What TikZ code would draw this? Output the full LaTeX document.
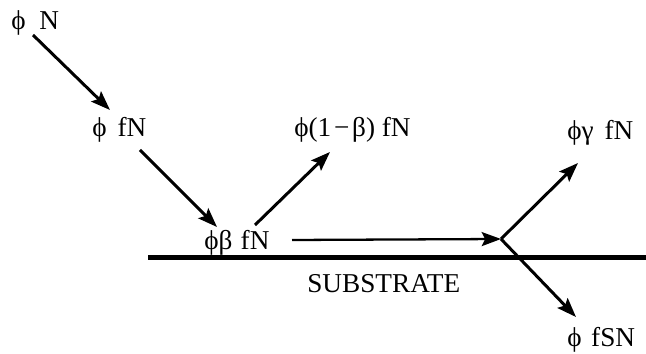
\documentclass[tikz,border=0pt]{standalone}
\usepackage{fontspec}
\setmainfont{Liberation Serif}
\usetikzlibrary{arrows.meta}
\begin{document}
\begin{tikzpicture}[x=0.02cm,y=-0.02cm,
  flow/.style={-{Stealth[length=11pt,width=8pt,inset=2pt]},line width=1.7pt},
  lbl/.style={inner sep=0pt,anchor=base west,font=\fontsize{15.5}{17}\selectfont}]
\useasboundingbox (0,0) rectangle (646,354);
% labels
\node[lbl] (phiN) at (11,30) {ϕ\hspace{0.25em} N};
\node[lbl] (fN) at (92,137) {ϕ\hspace{0.15em} fN};
\node[lbl] (bfN) at (204,250) {ϕβ\hspace{0.05em} fN};
\node[lbl] (rfN) at (294,137) {ϕ(1\hspace{0.1em}−\hspace{0.1em}β)\hspace{0.25em}fN};
\node[lbl] (gfN) at (567,140) {ϕγ\hspace{0.15em} fN};
\node[lbl] (sfN) at (567,347) {ϕ\hspace{0.1em} fSN};
\node[lbl] (sub) at (307,293) {SUBSTRATE};
% arrow ends
\coordinate (a1) at (33,35);   \coordinate (b1) at (110,110);
\coordinate (a2) at (140,150); \coordinate (b2) at (217,227);
\coordinate (a3) at (255,225); \coordinate (b3) at (330,152);
\coordinate (a4) at (292,240); \coordinate (hit) at (501,239);
\coordinate (b5) at (578,163); \coordinate (b6) at (576,317);
\coordinate (sl) at (148,257.5); \coordinate (sr) at (646,257.5);
% substrate
\draw[line width=2.8pt] (sl) -- (sr);
\draw[flow] (a1) -- (b1);
\draw[flow] (a2) -- (b2);
\draw[flow] (a3) -- (b3);
\draw[flow,line width=1.3pt] (a4) -- (hit);
\draw[flow] (hit) -- (b5);
\draw[flow] (hit) -- (b6);
\end{tikzpicture}
\end{document}
